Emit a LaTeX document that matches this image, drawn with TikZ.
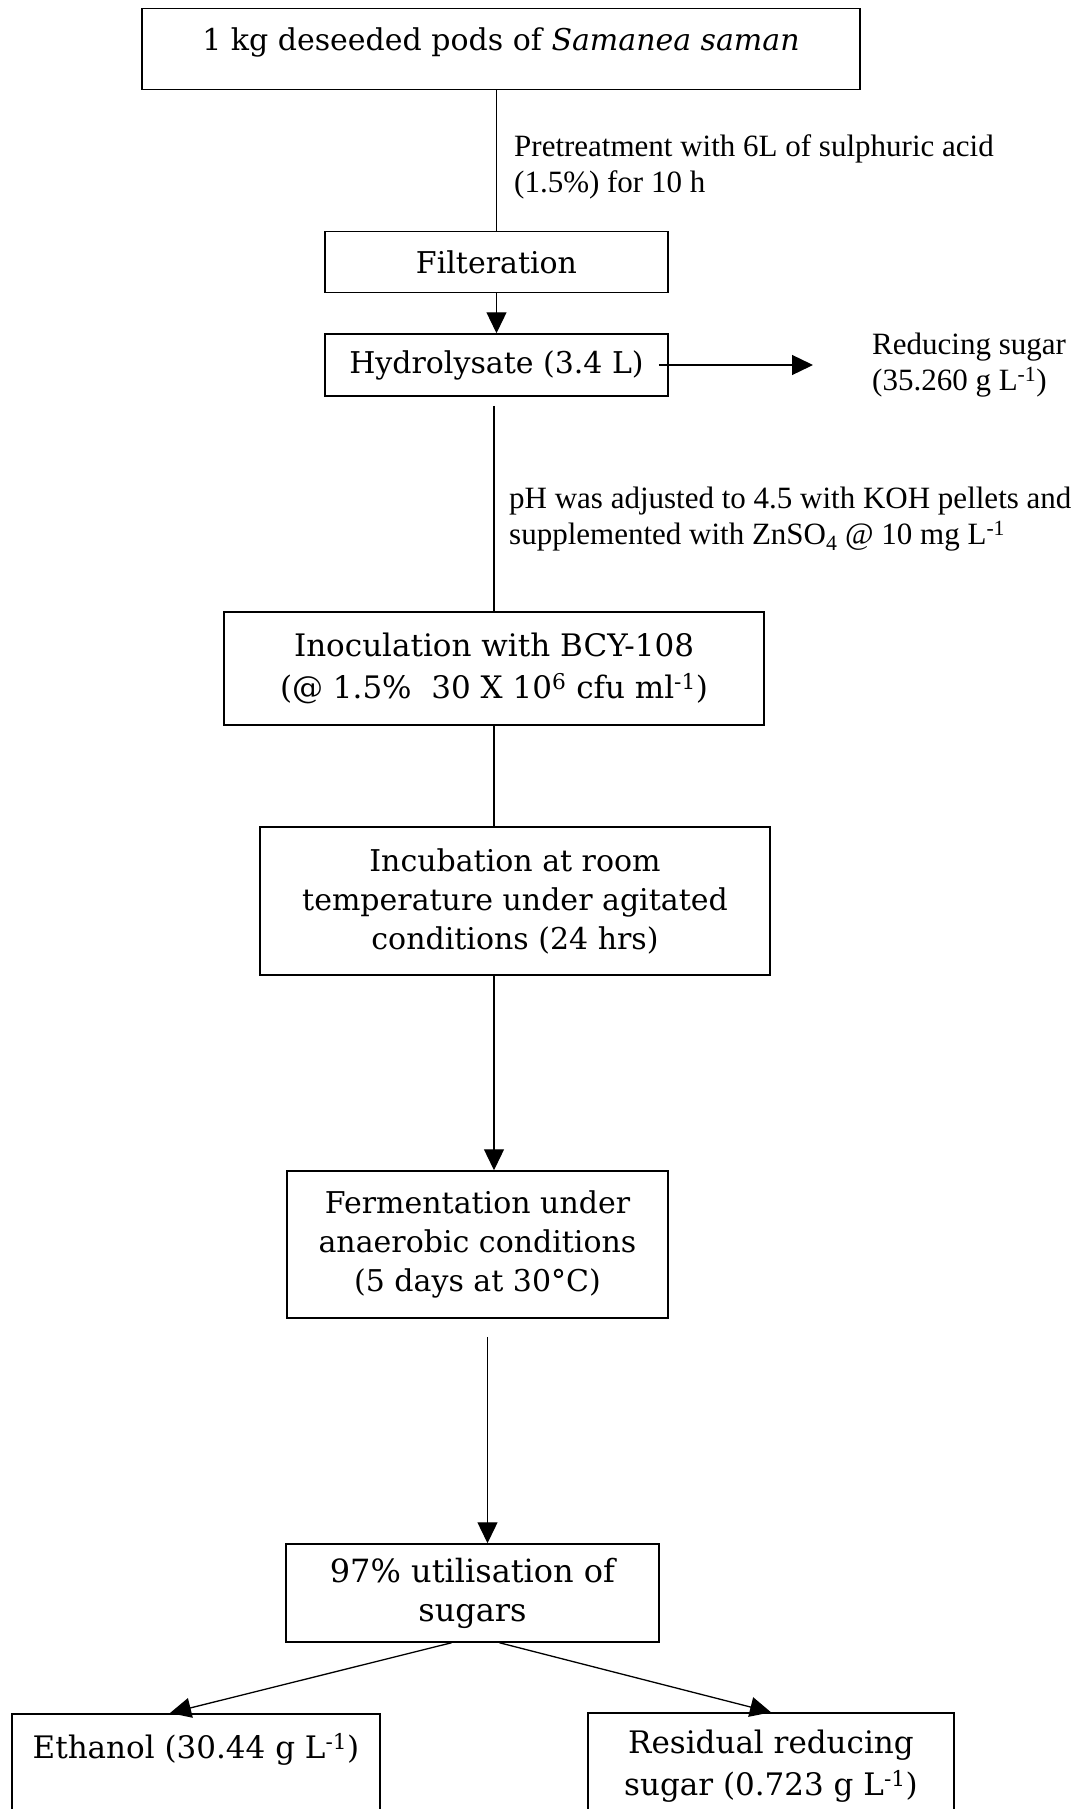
\documentclass[tikz,border=0pt]{standalone}
\usepackage{fontspec}
\setmainfont{DejaVu Serif}
\newfontfamily\tnr{Liberation Serif}
\usetikzlibrary{arrows.meta,calc}

\begin{document}
\begin{tikzpicture}[x=1pt,y=-1pt,
  box/.style={draw, line width=1.5pt, inner sep=0pt, align=center,
    font=\fontsize{30}{39}\selectfont},
  note/.style={inner sep=0pt, align=left, anchor=west,
    font=\tnr\fontsize{31}{36}\selectfont},
  link/.style={line width=1.3pt},
  arr/.style={link, -{Triangle[length=21pt,width=20pt]}},
]
\useasboundingbox (0,0) rectangle (1079,1809);
\clip (0,0) rectangle (1079,1809);

% process steps
\node[box, anchor=north, minimum width=718pt, text height=42pt, text depth=39pt]
  (pods) at (501,8) {1 kg deseeded pods of \textit{Samanea saman}};
\node[box, minimum width=343pt, minimum height=61pt] (filt) at (496.5,262) {Filteration};
\node[box, minimum width=343pt, minimum height=62pt] (hydro) at (496.5,365) {Hydrolysate (3.4 L)};
\node[box, minimum width=540pt, minimum height=113pt, font=\fontsize{31}{42}\selectfont]
  (inoc) at (494,668.5)
  {Inoculation with BCY-108\\(@ 1.5\%~~30 X 10\textsuperscript{6} cfu ml\textsuperscript{-1})};
\node[box, minimum width=510pt, minimum height=148pt] (incub) at (515,901)
  {Incubation at room\\temperature under agitated\\conditions (24 hrs)};
\node[box, minimum width=381pt, minimum height=147pt] (ferm) at (477.5,1244.5)
  {Fermentation under\\anaerobic conditions\\(5 days at 30°C)};
\node[box, minimum width=373pt, minimum height=98pt, font=\fontsize{32}{39}\selectfont]
  (use) at (472.5,1593) {97\% utilisation of\\sugars};
\node[box, anchor=north, minimum width=368pt, text height=45pt, text depth=140pt,
  font=\fontsize{31}{42}\selectfont]
  (eth) at (196,1713) {Ethanol (30.44 g L\textsuperscript{-1})};
\node[box, minimum width=366pt, minimum height=106pt, font=\fontsize{31}{42}\selectfont]
  (res) at (771,1766) {Residual reducing\\sugar (0.723 g L\textsuperscript{-1})};

% side notes
\node[note] (pre) at (514,167) {Pretreatment with 6L of sulphuric acid\\(1.5\%) for 10 h};
\node[note] (ph) at (509,519)
  {pH was adjusted to 4.5 with KOH pellets and\\supplemented with ZnSO\textsubscript{4} @ 10 mg L\textsuperscript{-1}};
\node[note] (red) at (872,365) {Reducing sugar\\(35.260 g L\textsuperscript{-1})};
\coordinate (redtip) at (813,365);

% connectors
\draw[link] (filt.north |- pods.south) -- (filt.north);
\draw[arr] (filt.south) -- (hydro.north);
\draw[arr] ([xshift=-10pt]hydro.east) -- (redtip);
\draw[link, shorten <=9pt] (inoc.north |- hydro.south) -- (inoc.north);
\draw[link] (inoc.south) -- (incub.north -| inoc.south);
\draw[arr] (incub.south -| inoc.south) -- (ferm.north -| inoc.south);
\coordinate (fx) at ([xshift=10pt]ferm.south);
\draw[arr, shorten <=18pt] (fx) -- (fx |- use.north);
\draw[arr] ([xshift=-21pt]use.south) -- ([xshift=-26pt]eth.north);
\draw[arr] ([xshift=27pt]use.south) -- (res.north);
\end{tikzpicture}
\end{document}
